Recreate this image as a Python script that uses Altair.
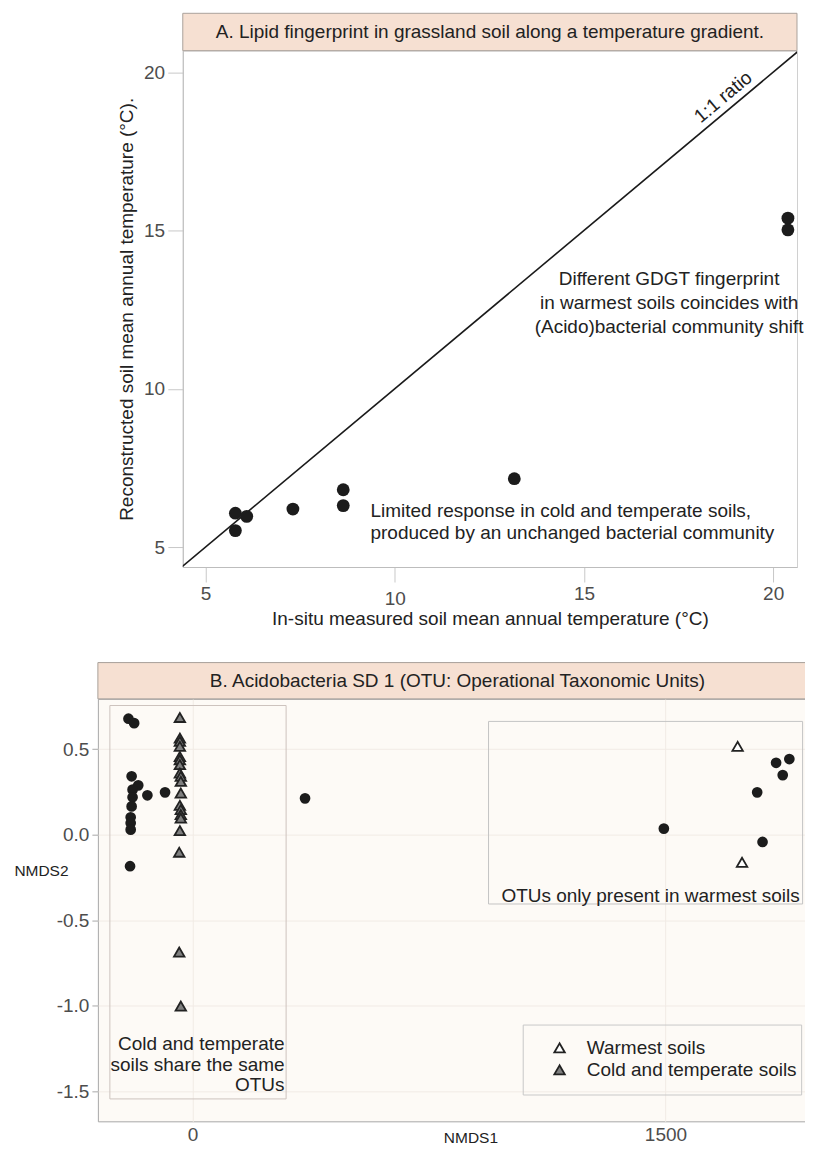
import altair as alt
import pandas as pd

FONT = "Liberation Sans"
TXT = "#222222"
LAB = "#4d4d4d"
FS = 19

# ---------------- Panel A data ----------------
a_insitu = [5.79, 6.09, 5.79, 7.31, 8.64, 8.64, 13.16, 20.39, 20.39]
a_recon = [6.07, 5.97, 5.52, 6.20, 6.81, 6.31, 7.16, 15.39, 15.02]
a_ratio = [4.0, 21.0]
a_xdomain = [4.40, 20.63]
a_ydomain = [4.37, 20.68]
a_ticks = [5, 10, 15, 20]
a_title = "A. Lipid fingerprint in grassland soil along a temperature gradient."
a_xtitle = "In-situ measured soil mean annual temperature (°C)"
a_ytitle = "Reconstructed soil mean annual temperature (°C)."
a_ratio_label = ["1:1 ratio"]
a_ratio_pos = [18.9]
a_note_warm = ["Different GDGT fingerprint\nin warmest soils coincides with\n(Acido)bacterial community shift"]
a_note_warm_x = [17.25]
a_note_warm_y = [13.756]
a_note_cold = ["Limited response in cold and temperate soils,\nproduced by an unchanged bacterial community"]
a_note_cold_x = [9.36]
a_note_cold_y = [6.43]

# ---------------- Panel B data ----------------
b_circle_x = [-203, -185, -193, -172, -190, -143, -190, -193, -196, -196, -196, -87, -198,
              357, 1495, 1791, 1808, 1851, 1872, 1893]
b_circle_y = [0.678, 0.652, 0.341, 0.288, 0.263, 0.230, 0.218, 0.165, 0.101, 0.068, 0.029, 0.247, -0.185,
              0.212, 0.035, 0.247, -0.043, 0.420, 0.348, 0.442]
b_cold_x = [-40, -40, -40, -40, -40, -40, -40, -40, -37, -37, -37, -40, -37, -37, -37, -40, -42, -42, -37]
b_cold_y = [0.685, 0.564, 0.545, 0.516, 0.457, 0.438, 0.409, 0.360, 0.341, 0.311, 0.243, 0.171, 0.146,
            0.117, 0.097, 0.023, -0.103, -0.687, -1.003]
b_warm_x = [1729, 1743]
b_warm_y = [0.516, -0.162]
b_groups = ["Warmest soils", "Cold and temperate soils"]
b_group_fill = ["#ffffff", "#7f7f7f"]
b_xdomain = [-300, 1968]
b_ydomain = [-1.677, 0.794]
b_xticks = [0, 1500]
b_yticks = [-1.5, -1.0, -0.5, 0.0, 0.5]
b_title = "B. Acidobacteria SD 1 (OTU: Operational Taxonomic Units)"
b_box_x1 = [-262, 939, 1049]
b_box_x2 = [297, 1935, 1932]
b_box_y1 = [0.755, 0.662, -1.114]
b_box_y2 = [-1.546, -0.406, -1.523]
b_box_col = ["#cdc3be", "#c4c4c4", "#c8c8c8"]
b_notes = ["Cold and temperate\nsoils share the same\nOTUs", "OTUs only present in warmest soils"]
b_notes_x = [292, 1926]
b_notes_y = [-1.171, -0.304]

# ---------------- Panel A ----------------
AW, AH = 615, 517

a_df = pd.DataFrame({"insitu": a_insitu, "recon": a_recon})
ratio_df = pd.DataFrame({"insitu": a_ratio, "recon": a_ratio})

ax_x = alt.Axis(values=a_ticks, tickSize=15, tickColor="#c8c8c8", domainColor="#bdbdbd",
                labelFontSize=FS, labelColor=LAB, labelFlush=False, labelOverlap=False,
                labelPadding={"condition": {"test": "datum.value == 10", "value": 8}, "value": 3},
                grid=False, titleFontSize=FS, titleColor=TXT, titleFontWeight="normal",
                titleY=52, titleBaseline="middle")
ax_y = alt.Axis(values=a_ticks, tickSize=15, tickColor="#c8c8c8", domainColor="#bdbdbd",
                labelFontSize=FS, labelColor=LAB, labelPadding=3.3, grid=False,
                titleFontSize=FS, titleColor=TXT, titleFontWeight="normal",
                titleX=-56, titleY=AH / 2, titleAngle=270, titleAlign="center",
                titleBaseline="middle")


def ax_enc(field="insitu"):
    return alt.X(f"{field}:Q", scale=alt.Scale(domain=a_xdomain, nice=False, zero=False),
                 axis=ax_x, title=a_xtitle)


def ay_enc(field="recon"):
    return alt.Y(f"{field}:Q", scale=alt.Scale(domain=a_ydomain, nice=False, zero=False),
                 axis=ax_y, title=a_ytitle)


a_header = alt.Chart(pd.DataFrame({"t": [a_title]})).mark_rect(
    fill="#f6e0d2", stroke="#aaa29c", strokeWidth=1
).encode(x=alt.value(0), x2=alt.value(AW), y=alt.value(-37.4), y2=alt.value(0))
a_header_txt = alt.Chart(pd.DataFrame({"t": [a_title]})).mark_text(
    fontSize=FS, color=TXT, align="center", baseline="middle"
).encode(x=alt.value(AW / 2), y=alt.value(-18.7), text="t:N")

a_line = alt.Chart(ratio_df).mark_line(color="#1a1a1a", strokeWidth=1.6, clip=True).encode(
    x=ax_enc(), y=ay_enc())
a_ratio_txt = alt.Chart(pd.DataFrame({"insitu": a_ratio_pos, "recon": a_ratio_pos, "t": a_ratio_label})).mark_text(
    fontSize=FS, color=TXT, angle=320, dy=-13, align="center", baseline="middle"
).encode(x=ax_enc(), y=ay_enc(), text="t:N")
a_pts = alt.Chart(a_df).mark_circle(size=165, color="#1c1c1c", opacity=1).encode(x=ax_enc(), y=ay_enc())
a_warm_txt = alt.Chart(pd.DataFrame({"insitu": a_note_warm_x, "recon": a_note_warm_y, "t": a_note_warm})).mark_text(
    fontSize=FS, color=TXT, align="center", baseline="top", lineBreak="\n", lineHeight=24
).encode(x=ax_enc(), y=ay_enc(), text="t:N")
a_cold_txt = alt.Chart(pd.DataFrame({"insitu": a_note_cold_x, "recon": a_note_cold_y, "t": a_note_cold})).mark_text(
    fontSize=FS, color=TXT, align="left", baseline="top", lineBreak="\n", lineHeight=22.7
).encode(x=ax_enc(), y=ay_enc(), text="t:N")

panel_a = alt.layer(a_header, a_header_txt, a_line, a_ratio_txt, a_pts, a_warm_txt, a_cold_txt).properties(
    width=AW, height=AH, view=alt.ViewBackground(fill="#ffffff", stroke="#d0d0d0"))

spacer = alt.Chart(pd.DataFrame({"s": [0]})).mark_point(opacity=0).encode(
    x=alt.value(9), y=alt.value(5)).properties(width=18, height=10,
                                                 view=alt.ViewBackground(stroke="transparent"))

# ---------------- Panel B ----------------
BW, BH = 716, 423

bx_axis = alt.Axis(values=b_xticks, format="d", ticks=False, tickSize=0, domain=False, labelFontSize=FS,
                   labelColor=LAB, labelPadding=4, labelFlush=False, gridColor="#f1ebe5",
                   titleFontSize=15.5, titleColor=TXT, titleFontWeight="normal",
                   titleX=373, titleY=16, titleBaseline="middle", titleAlign="center")
by_axis = alt.Axis(values=b_yticks, tickSize=6, tickColor="#a8a8a8", domain=False,
                   labelFontSize=FS, labelColor=LAB, labelPadding=3,
                   labelExpr="datum.value < 0 ? '-' + format(abs(datum.value), '.1f') : format(datum.value, '.1f')",
                   gridColor="#f1ebe5", titleFontSize=15.5, titleColor=TXT, titleFontWeight="normal",
                   titleAngle=0, titleX=-57, titleY=172, titleAlign="center", titleBaseline="middle")


def bx_enc(field="nx"):
    return alt.X(f"{field}:Q", scale=alt.Scale(domain=b_xdomain, nice=False, zero=False),
                 axis=bx_axis, title="NMDS1")


def by_enc(field="ny"):
    return alt.Y(f"{field}:Q", scale=alt.Scale(domain=b_ydomain, nice=False, zero=False),
                 axis=by_axis, title="NMDS2")


tri_df = pd.DataFrame({
    "nx": b_warm_x + b_cold_x,
    "ny": b_warm_y + b_cold_y,
    "group": [b_groups[0]] * len(b_warm_x) + [b_groups[1]] * len(b_cold_x),
})
circ_df = pd.DataFrame({"nx": b_circle_x, "ny": b_circle_y})
box_df = pd.DataFrame({"nx": b_box_x1, "nx2": b_box_x2, "ny": b_box_y1, "ny2": b_box_y2, "c": b_box_col})
note_df = pd.DataFrame({"nx": b_notes_x, "ny": b_notes_y, "t": b_notes})

b_header = alt.Chart(pd.DataFrame({"t": [b_title]})).mark_rect(
    fill="#f6e0d2", stroke="#a8a09a", strokeWidth=1
).encode(x=alt.value(0), x2=alt.value(BW), y=alt.value(-36.3), y2=alt.value(0))
b_header_txt = alt.Chart(pd.DataFrame({"t": [b_title]})).mark_text(
    fontSize=FS, color=TXT, align="center", baseline="middle"
).encode(x=alt.value(360), y=alt.value(-18.2), text="t:N")

b_boxes = alt.Chart(box_df).mark_rect(fillOpacity=0, strokeWidth=1).encode(
    x=bx_enc(), x2="nx2:Q", y=by_enc(), y2="ny2:Q",
    stroke=alt.Stroke("c:N", scale=None))
b_circ = alt.Chart(circ_df).mark_circle(size=115, color="#1c1c1c", opacity=1).encode(x=bx_enc(), y=by_enc())
b_tri = alt.Chart(tri_df).mark_point(shape="triangle-up", filled=True, size=110, stroke="#222222",
                                     strokeWidth=1.8, opacity=1).encode(
    x=bx_enc(), y=by_enc(),
    fill=alt.Fill("group:N", scale=alt.Scale(domain=b_groups, range=b_group_fill),
                  legend=alt.Legend(title=None, orient="none", legendX=452.75, legendY=340,
                                    symbolType="triangle-up", symbolSize=110, symbolStrokeColor="#222222",
                                    symbolStrokeWidth=1.8, symbolOpacity=1, labelFontSize=FS,
                                    labelFont=FONT, labelColor=TXT, labelOffset=17.75, labelLimit=500,
                                    rowPadding=2, padding=0)))
b_notes_txt = alt.Chart(note_df).mark_text(
    fontSize=FS, color=TXT, align="right", baseline="top", lineBreak="\n", lineHeight=20.8
).encode(x=bx_enc(), y=by_enc(), text="t:N")

panel_b = alt.layer(b_header, b_header_txt, b_boxes, b_circ, b_tri, b_notes_txt).properties(
    width=BW, height=BH, view=alt.ViewBackground(fill="#fdfaf6", stroke="#a8a8a8"))

top_row = alt.hconcat(spacer, panel_a, spacing=0)
chart = alt.vconcat(top_row, panel_b, spacing=31).resolve_legend(fill="independent").properties(
    padding={"left": 5, "top": 3, "right": -9, "bottom": 0}
).configure(
    font=FONT
).configure_view(strokeWidth=1).configure_text(font=FONT).configure_axis(
    labelFont=FONT, titleFont=FONT
)

chart.save("out.html", embed_options={"renderer": "svg", "actions": False})
